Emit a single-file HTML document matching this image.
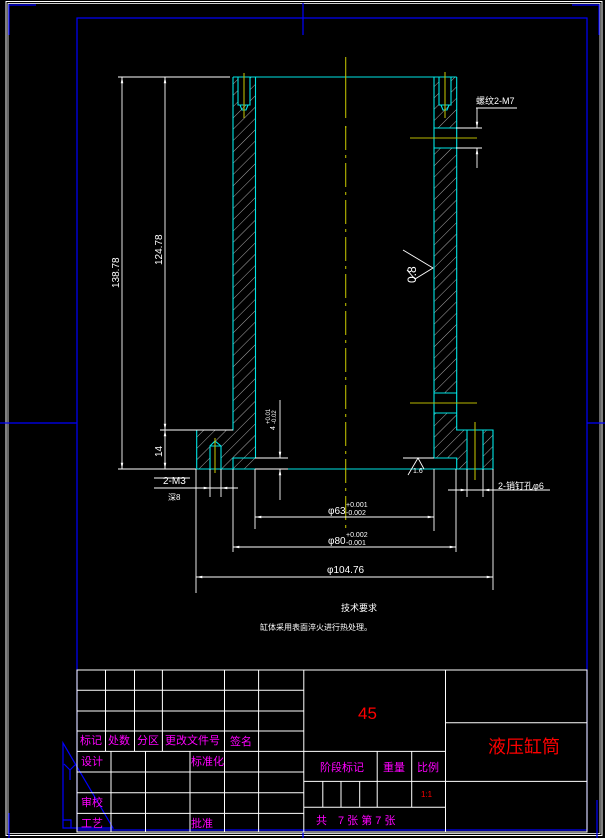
<!DOCTYPE html>
<html><head><meta charset="utf-8"><style>
html,body{margin:0;padding:0;background:#000;width:605px;height:838px;overflow:hidden}
svg{display:block}
text{font-family:"Liberation Sans","Noto Sans CJK SC",sans-serif}
</style></head><body>
<svg width="605" height="838" viewBox="0 0 605 838" xmlns="http://www.w3.org/2000/svg">
<defs>
<pattern id="h" width="8" height="8" patternUnits="userSpaceOnUse" patternTransform="rotate(45)">
<line x1="0" y1="0" x2="0" y2="8" stroke="#bbb" stroke-width="0.9"/>
</pattern>
<marker id="a" viewBox="0 0 10 10" refX="10" refY="5" markerWidth="7" markerHeight="7" orient="auto-start-reverse"><path d="M0,3 L10,5 L0,7 z" fill="#fff"/></marker>
</defs>
<!-- outer frame -->
<rect x="6" y="1.5" width="596" height="834" fill="none" stroke="#fff" stroke-width="1"/>
<rect x="8" y="3.5" width="592" height="830" fill="none" stroke="#fff" stroke-width="0.8"/>
<g stroke="#0000ff" stroke-width="1.2" fill="none">
<rect x="77" y="18" width="510" height="812"/>
<path d="M9,35 V5 H36 M572,5 H599 V35 M303,3 V35 M0,423 H77 M587,423 H605 M303,830 V838 M9,813 V838 M597,800 V838"/>
<path d="M63,743 V828 H113 Z M63,820 H71 V828 M70,770 V780 M70,770 L64,764 M70,770 L76,764"/>
</g>
<!-- hatch areas -->
<g fill="url(#h)">
<rect x="233" y="77" width="22.5" height="381"/>
<path d="M196.7,430 H233 V458 H255.5 V469 H196.7 Z"/>
<path d="M434,77 H456.7 V128 H434 Z M434,148 H456.7 V393 H434 Z M434,413 H456.7 V430 H493 V469 H456.7 V458 H434 Z"/>
</g>
<g fill="#000">
<rect x="238" y="77" width="12" height="28"/><rect x="439" y="77" width="12" height="28"/>
<rect x="210" y="443" width="11" height="26"/><rect x="467" y="430" width="16" height="39"/>
</g>
<!-- cyan outlines -->
<g stroke="#00e5e5" stroke-width="1.1" fill="none">
<path d="M233,77 H456.7 M233,77 V430 H196.7 V469 H493 V430 H456.7 V77"/>
<path d="M255.5,77 V458 H233 V469 M434,77 V458 H456.7 V469"/>
<path d="M238,77 V105 H250 V77 M240,105 L242,110 H246 L248,105"/>
<path d="M439,77 V105 H451 V77 M441,105 L443,110 H447 L449,105"/>
<path d="M210,469 V446 H221 V469 M210,446 L215,441 L221,446"/>
<path d="M467,430 V469 M483,430 V469"/>
<path d="M434,128 H456.7 M434,148 H456.7 M434,393 H456.7 M434,413 H456.7"/>
</g>
<!-- yellow centerlines -->
<g stroke="#b8b800" stroke-width="1.1" fill="none">
<path d="M345.7,57 V118 M345.7,126 V128" />
<path d="M345.7,126 V530" stroke-dasharray="24,5,3,5"/>
<path d="M244,73 V118 M445,72 V118 M410,138 H477 M410,403 H477 M475,422 V480 M215,438 V473"/>
</g>
<!-- dimensions -->
<g stroke="#fff" stroke-width="0.9" fill="none">
<path d="M118,77 H230 M160,430 H233 M118,469 H196"/>
<path d="M122,77 V469" marker-start="url(#a)" marker-end="url(#a)"/>
<path d="M165,77 V430" marker-start="url(#a)" marker-end="url(#a)"/>
<path d="M165,430 V469" marker-start="url(#a)" marker-end="url(#a)"/>
<path d="M280,400 V458" marker-end="url(#a)"/>
<path d="M280,500 V469" marker-end="url(#a)"/>
<path d="M255,458 H288 M255,469 H288"/>
<path d="M456,128 H482 M456,148 H482 M476,108 H517"/>
<path d="M477,108 V128" marker-end="url(#a)"/>
<path d="M477,168 V148" marker-end="url(#a)"/>
<path d="M403,250 L433,268 L415,279 L407,270"/>
<path d="M403,458 H434 M408,475 L418,458 L424,469"/>
<path d="M196,469 V593 M233,469 V552 M255,469 V529 M434,469 V531 M456,469 V552 M493,469 V590 M210,469 V497 M221,469 V497 M467,469 V497 M483,469 V497"/>
<path d="M154,488 H238 M154,478 H190"/>
<path d="M200,488 H210" marker-end="url(#a)"/>
<path d="M231,488 H221" marker-end="url(#a)"/>
<path d="M448,490 H550"/>
<path d="M458,490 H467" marker-end="url(#a)"/>
<path d="M493,490 H483" marker-end="url(#a)"/>
<path d="M255,517 H434" marker-start="url(#a)" marker-end="url(#a)"/>
<path d="M233,547 H456" marker-start="url(#a)" marker-end="url(#a)"/>
<path d="M196,577 H493" marker-start="url(#a)" marker-end="url(#a)"/>
</g>
<g fill="#fff" font-size="10">
<text transform="translate(119,288) rotate(-90)">138.78</text>
<text transform="translate(162,265) rotate(-90)">124.78</text>
<text transform="translate(162,457) rotate(-90)">14</text>
<text transform="translate(275,430) rotate(-90)" font-size="7">4</text>
<text transform="translate(270,424) rotate(-90)" font-size="6">+0.01</text>
<text transform="translate(276,424) rotate(-90)" font-size="6">-0.02</text>
<text transform="translate(416,283) rotate(-90)" font-size="12">0.8</text>
<text x="476" y="104" font-size="9">螺纹2-M7</text>
<text x="413" y="473" font-size="7">1.6</text>
<text x="163" y="484" font-size="10">2-M3</text>
<text x="168" y="500" font-size="8">深8</text>
<text x="498" y="489" font-size="9">2-销钉孔φ6</text>
<text x="328" y="514" font-size="10">φ63</text>
<text x="346" y="507" font-size="7">+0.001</text>
<text x="346" y="515" font-size="7">-0.002</text>
<text x="328" y="544" font-size="10">φ80</text>
<text x="346" y="537" font-size="7">+0.002</text>
<text x="346" y="545" font-size="7">-0.001</text>
<text x="327" y="573" font-size="10">φ104.76</text>
<text x="341" y="611" font-size="9">技术要求</text>
<text x="260" y="630" font-size="8">缸体采用表面淬火进行热处理。</text>
</g>
<!-- title block -->
<g stroke="#fff" stroke-width="1" fill="none">
<rect x="77" y="670" width="510" height="162"/>
<path d="M77,690.3 H303.8 M77,711 H303.8 M77,731 H303.8 M77,751.4 H303.8 M77,772 H303.8 M77,792.8 H303.8 M77,813.4 H303.8"/>
<path d="M105.5,670 V751.4 M134.5,670 V751.4 M162.4,670 V751.4 M224.5,670 V832 M258.6,670 V832 M303.8,670 V832"/>
<path d="M111,751.4 V832 M145.5,751.4 V832 M190,751.4 V832"/>
<path d="M303.8,751.4 H445.5 M303.8,781.4 H445.5 M303.8,807.2 H445.5 M377.2,751.4 V807.2 M411.7,751.4 V807.2 M322.8,781.4 V807.2 M341,781.4 V807.2 M359.7,781.4 V807.2"/>
<path d="M445.5,670 V832 M445.5,722.8 H587 M445.5,781.4 H587"/>
</g>
<g fill="#ff00ff" font-size="11">
<text x="80" y="744">标记</text><text x="108" y="744">处数</text><text x="137" y="744">分区</text><text x="165" y="744">更改文件号</text><text x="230" y="745">签名</text>
<text x="81" y="765">设计</text><text x="191" y="765">标准化</text>
<text x="81" y="806">审校</text><text x="81" y="827">工艺</text><text x="191" y="827">批准</text>
<text x="320" y="771">阶段标记</text><text x="383" y="771">重量</text><text x="417" y="771">比例</text>
<text x="316" y="824">共　7 张 第 7 张</text>
</g>
<g fill="#ff0000">
<text x="358" y="719" font-size="17">45</text>
<text x="488" y="753" font-size="18">液压缸筒</text>
<text x="421" y="797" font-size="8">1:1</text>
</g>
</svg>
</body></html>
